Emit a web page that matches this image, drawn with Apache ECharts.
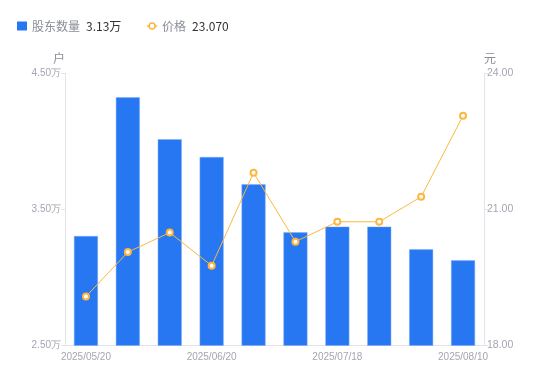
<!DOCTYPE html>
<html>
<head>
<meta charset="utf-8">
<script src="https://cdn.jsdelivr.net/npm/echarts@6/dist/echarts.min.js"></script>
<style>html,body{margin:0;padding:0;background:#fff}#c{width:550px;height:381px}</style>
</head>
<body>
<div id="c"></div>
<script>
var categories = ['2025/05/20','2025/05/31','2025/06/10','2025/06/20','2025/06/30','2025/07/10','2025/07/18','2025/07/31','2025/08/05','2025/08/10'];
var holders = [33050, 43250, 40160, 38860, 36850, 33320, 33740, 33740, 32070, 31260];
var prices = [19.08, 20.06, 20.49, 19.76, 21.81, 20.29, 20.73, 20.73, 21.28, 23.07];
var leftTicks = [25000, 35000, 45000];
var rightTicks = [18, 21, 24];
var legendValues = {'股东数量': '3.13万', '价格': '23.070'};

var chart = echarts.init(document.getElementById('c'), null, {renderer: 'canvas'});
var labelColor = '#a3a6b1';
chart.setOption({
  animation: false,
  legend: {
    left: 12, top: 15, itemWidth: 10, itemHeight: 9, itemGap: 25,
    textStyle: {
      fontFamily: 'Noto Sans CJK SC', fontSize: 12,
      rich: {
        n: {color: '#8a8e99', fontSize: 12, fontFamily: 'Noto Sans CJK SC'},
        v: {color: '#333', fontSize: 12, fontFamily: 'Noto Sans CJK SC', padding: [0,0,0,6]}
      }
    },
    formatter: function (name) { return '{n|' + name + '}{v|' + legendValues[name] + '}'; },
    data: [
      {name: '股东数量', icon: 'rect', itemStyle: {borderWidth: 0}},
      {name: '价格', icon: 'path://M0,3 L2,3 M8,3 L10,3 M2,3 A3,3 0 1,1 8,3 A3,3 0 1,1 2,3 Z',
        itemStyle: {color: '#fff', borderColor: '#FDB73F', borderWidth: 1.6}}
    ]
  },
  grid: {left: 65, right: 66, top: 73.5, bottom: 35.5},
  xAxis: {
    type: 'category', data: categories,
    axisLine: {lineStyle: {color: '#e3e4e8'}},
    axisTick: {show: false},
    axisLabel: {color: labelColor, fontSize: 10, interval: 2, margin: 7, fontFamily: 'Liberation Sans'}
  },
  yAxis: [
    {
      type: 'value', min: 25000, max: 45000, interval: 10000, position: 'left',
      name: '户', nameGap: 9, nameTextStyle: {color: '#8a8e99', fontSize: 12, padding: [0, 0, 0, -12], fontFamily: 'Noto Sans CJK SC'},
      axisLine: {show: true, lineStyle: {color: '#e3e4e8'}},
      axisTick: {show: true, length: 4, lineStyle: {color: '#e3e4e8'}},
      splitLine: {show: false},
      axisLabel: {color: labelColor, fontSize: 10, margin: 4, fontFamily: 'Liberation Sans',
        formatter: function (v) { return (v / 10000).toFixed(2) + '万'; }}
    },
    {
      type: 'value', min: 18, max: 24, interval: 3, position: 'right',
      name: '元', nameGap: 9, nameTextStyle: {color: '#8a8e99', fontSize: 12, padding: [0, 0, 0, 12], fontFamily: 'Noto Sans CJK SC'},
      axisLine: {show: true, lineStyle: {color: '#e3e4e8'}},
      axisTick: {show: true, length: 4, lineStyle: {color: '#e3e4e8'}},
      splitLine: {show: false},
      axisLabel: {color: labelColor, fontSize: 10.5, margin: 3, fontFamily: 'Liberation Sans',
        formatter: function (v) { return v.toFixed(2); }}
    }
  ],
  series: [
    {
      name: '股东数量', type: 'bar', data: holders, yAxisIndex: 0, barWidth: 24,
      itemStyle: {color: '#2777F3', borderColor: '#7eaef8', borderWidth: 0.5}
    },
    {
      name: '价格', type: 'line', data: prices, yAxisIndex: 1,
      symbol: 'circle', symbolSize: 6, showAllSymbol: true,
      lineStyle: {color: '#FDB73F', width: 1},
      itemStyle: {color: '#fff', borderColor: '#FDB73F', borderWidth: 2}
    }
  ]
});
</script>
</body>
</html>
